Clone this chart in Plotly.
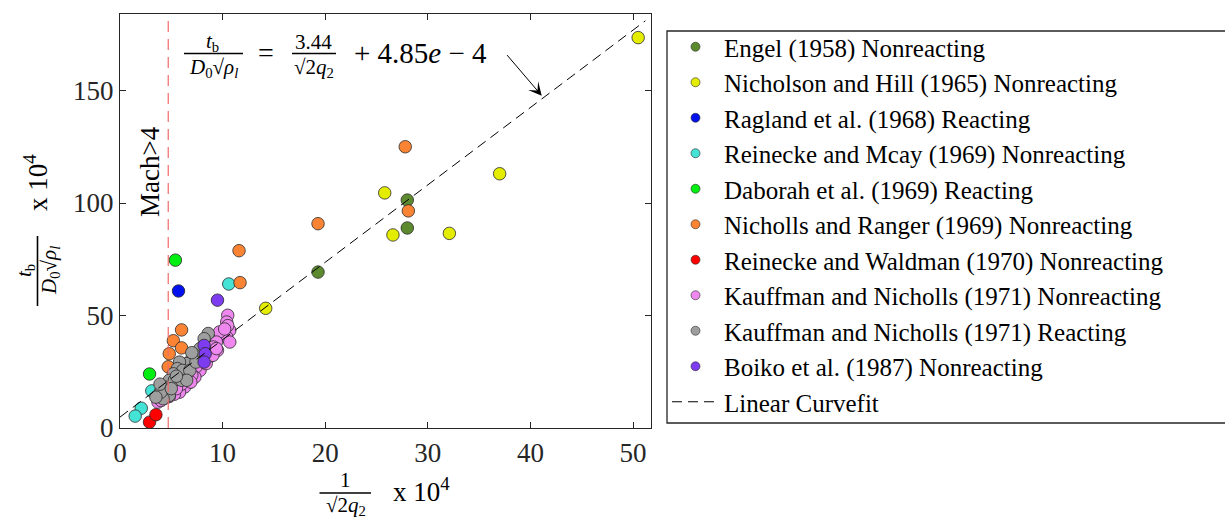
import plotly.graph_objects as go

# ---------------- data (x 1e4 units) ----------------
engel_x = [28.0, 28.0, 19.3]
engel_y = [101.3, 88.9, 69.3]

nicholson_x = [50.5, 37.0, 32.1, 25.8, 26.6, 14.2]
nicholson_y = [173.5, 113.0, 86.5, 104.5, 85.8, 53.2]

ragland_x = [5.7]
ragland_y = [60.9]

mcay_x = [10.6, 3.1, 2.07, 1.48]
mcay_y = [64.0, 16.5, 8.8, 5.3]

daborah_x = [5.4, 2.88]
daborah_y = [74.6, 24.0]

ranger_x = [27.8, 28.1, 19.3, 11.6, 11.7, 6.0, 5.2, 6.0, 4.8, 4.7]
ranger_y = [125.0, 96.5, 90.8, 78.8, 64.6, 43.6, 38.8, 35.6, 33.0, 27.2]

waldman_x = [2.88, 3.5]
waldman_y = [2.6, 5.9]

kn_nr_x = [10.5, 10.4, 10.7, 10.4, 9.7, 9.4, 10.7, 10.5, 10.2, 8.7, 9.5, 9.1, 8.7, 8.2,
           7.8, 7.4, 7.3, 6.8, 6.3, 5.8, 5.3, 4.8, 4.2, 3.7, 6.0, 7.0, 5.5, 4.5, 4.0, 6.9,
           8.4, 9.05, 9.4]
kn_nr_y = [50.1, 47.1, 43.4, 40.4, 42.7, 38.2, 38.2, 45.5, 44.0, 33.8, 34.5, 36.0, 31.5, 28.6,
           25.6, 27.1, 22.6, 20.4, 18.2, 15.9, 15.0, 14.0, 13.0, 11.5, 19.5, 23.5, 17.5, 13.5, 12.2, 20.4,
           28.6, 32.3, 35.3]

kn_r_x = [8.6, 8.2, 7.8, 7.3, 6.9, 6.5, 5.8, 5.6, 6.1, 6.8, 5.2, 4.8, 5.3, 4.3, 4.0, 4.5,
          3.7, 4.8, 4.2, 6.0, 6.5, 7.4, 4.0, 3.5, 3.9, 5.0, 5.5, 7.0]
kn_r_y = [42.0, 39.7, 35.3, 32.3, 30.0, 28.6, 29.3, 26.4, 25.6, 25.6, 24.1, 21.2, 21.2, 18.2, 16.7, 15.2,
          14.5, 14.5, 13.0, 21.2, 21.2, 29.3, 16.0, 13.7, 19.5, 17.5, 23.0, 33.5]

boiko_x = [9.5, 8.2, 8.3, 8.2]
boiko_y = [56.8, 36.7, 33.0, 29.3]

fit_slope = 3.44
fit_intercept = 4.85
fit_x = [0.0, 51.2]
fit_y = [fit_slope * v + fit_intercept for v in fit_x]

mach_x = 4.7

x_ticks = [0, 10, 20, 30, 40, 50]
y_ticks = [0, 50, 100, 150]
x_range = [0, 51.75]
y_range = [0, 184]

series = [
    ("Engel (1958) Nonreacting", engel_x, engel_y, "#5d8a2e"),
    ("Nicholson and Hill (1965) Nonreacting", nicholson_x, nicholson_y, "#e4ec00"),
    ("Ragland et al. (1968) Reacting", ragland_x, ragland_y, "#0011ee"),
    ("Reinecke and Mcay (1969) Nonreacting", mcay_x, mcay_y, "#45e2d6"),
    ("Daborah et al. (1969) Reacting", daborah_x, daborah_y, "#00ee10"),
    ("Nicholls and Ranger (1969) Nonreacting", ranger_x, ranger_y, "#fb8434"),
    ("Reinecke and Waldman (1970) Nonreacting", waldman_x, waldman_y, "#ff0000"),
    ("Kauffman and Nicholls (1971) Nonreacting", kn_nr_x, kn_nr_y, "#ee88ee"),
    ("Kauffman and Nicholls (1971) Reacting", kn_r_x, kn_r_y, "#9e9e9e"),
    ("Boiko et al. (1987) Nonreacting", boiko_x, boiko_y, "#7d3cf0"),
]

SERIF = "Liberation Serif"
W, H = 1225, 518
L, R, T, B = 120, 651, 14, 428  # plot area in pixels


def px(xp):
    return (xp - L) / (R - L)


def py(yp):
    return (B - yp) / (B - T)


fig = go.Figure()

for name, xs, ys, col in series:
    fig.add_trace(go.Scatter(
        x=xs, y=ys, mode="markers", name=name, showlegend=False,
        marker=dict(size=12.5, color=col, line=dict(color="#2a2a2a", width=0.8)),
    ))

# legend-only entries with smaller markers
for name, xs, ys, col in series:
    fig.add_trace(go.Scatter(
        x=[None], y=[None], mode="markers", name=name, showlegend=True,
        marker=dict(size=9, color=col, line=dict(color="#2a2a2a", width=0.6)),
    ))

fig.add_trace(go.Scatter(
    x=fit_x, y=fit_y, mode="lines", name="Linear Curvefit",
    line=dict(color="black", width=1, dash="10px,6px"),
))

# Mach > 4 line
fig.add_shape(type="line", xref="x", yref="paper", x0=mach_x, x1=mach_x, y0=0, y1=1,
              line=dict(color="#f06a6a", width=1.2, dash="11px,7px"))

# legend frame
fig.add_shape(type="rect", xref="paper", yref="paper",
              x0=px(667), x1=px(1240), y0=py(423), y1=py(31),
              line=dict(color="#262626", width=1.3), fillcolor="rgba(0,0,0,0)", layer="above")

ann = []


def A(text, xp, yp, size, angle=0, **kw):
    ann.append(dict(text=text, x=px(xp), y=py(yp), xref="paper", yref="paper",
                    showarrow=False, textangle=angle, xanchor="center", yanchor="middle",
                    font=dict(family=SERIF, size=size, color="black"), **kw))


def bar(x0, y0, x1, y1, w=1.6):
    fig.add_shape(type="line", xref="paper", yref="paper",
                  x0=px(x0), x1=px(x1), y0=py(y0), y1=py(y1),
                  line=dict(color="black", width=w))


# Equation annotation
A("<i>t</i><sub>b</sub>", 212, 42, 21)
bar(184, 53.5, 243, 53.5)
A("<i>D</i><sub>0</sub>√<i>ρ</i><sub><i>l</i></sub>", 213, 68, 21)
A("=", 266, 53, 28)
A("3.44", 313, 42, 21)
bar(292, 53.5, 336, 53.5)
A("√2<i>q</i><sub>2</sub>", 314, 68, 21)
A("+ 4.85<i>e</i> − 4", 420, 53, 29)

# arrow
ann.append(dict(x=41.1, y=147.7, ax=37.6, ay=166.4, xref="x", yref="y", axref="x", ayref="y",
                text="", showarrow=True, arrowhead=3, arrowsize=2.2, arrowwidth=1, arrowcolor="black"))

# Mach>4
A("Mach>4", 150, 172, 27, angle=-90)

# x label
A("1", 345, 480, 21)
bar(319.5, 493, 371, 493)
A("√2<i>q</i><sub>2</sub>", 346, 506, 21)
A("x 10<sup>4</sup>", 421, 490, 27)

# y label
A("<i>t</i><sub>b</sub>", 25, 271, 21, angle=-90)
bar(37.5, 236, 37.5, 306)
A("<i>D</i><sub>0</sub>√<i>ρ</i><sub><i>l</i></sub>", 50, 271, 21, angle=-90)
A("x 10<sup>4</sup>", 36, 183, 27, angle=-90)

axis_common = dict(showline=True, linecolor="#262626", linewidth=1.3, mirror="ticks",
                   ticks="inside", ticklen=6, tickwidth=1.1, tickcolor="#262626",
                   showgrid=False, zeroline=False,
                   tickfont=dict(family=SERIF, size=27, color="#262626"))

fig.update_layout(
    width=W, height=H,
    margin=dict(l=L, r=W - R, t=T, b=H - B),
    paper_bgcolor="white", plot_bgcolor="white",
    xaxis=dict(range=x_range, tickvals=x_ticks, **axis_common),
    yaxis=dict(range=y_range, tickvals=y_ticks, **axis_common),
    annotations=ann,
    legend=dict(x=px(667), y=py(24), xanchor="left", yanchor="top",
                bgcolor="rgba(0,0,0,0)", borderwidth=0,
                font=dict(family=SERIF, size=25, color="black"),
                itemwidth=47, tracegroupgap=0, maxheight=600),
    showlegend=True,
)

fig.write_html("out.html")
